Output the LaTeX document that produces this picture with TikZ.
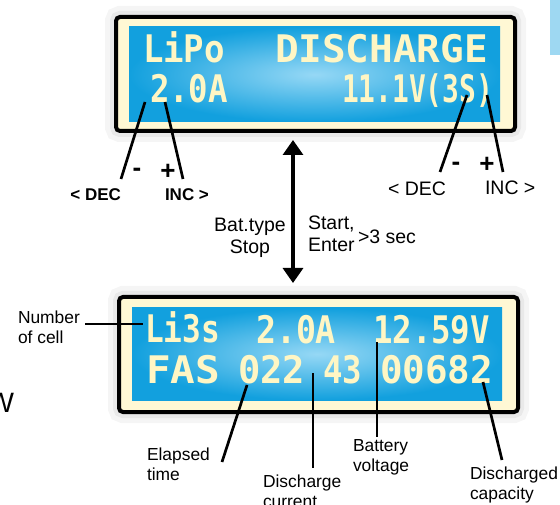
\documentclass[tikz,border=0pt]{standalone}
\usepackage{fontspec}
\setmainfont{Liberation Sans}
\newfontfamily\lcdfont{DejaVu Sans Mono}
\usepackage{graphicx}
\usepackage{tikz}
\usetikzlibrary{arrows.meta, positioning}
\definecolor{lcdcream}{RGB}{255,248,212}
\definecolor{lcdtxt}{RGB}{255,246,196}
\definecolor{lcdlight}{RGB}{150,216,245}
\definecolor{lcddark}{RGB}{18,160,222}
\definecolor{tabblue}{RGB}{158,216,242}
\newcommand{\lcdw}[2]{\resizebox{#1pt}{\height}{\lcdfont\bfseries\fontsize{38}{40}\selectfont #2}}

\begin{document}
\begin{tikzpicture}[x=1pt,y=-1pt,>={Triangle[length=15pt,width=20pt]},
 every node/.style={inner sep=0pt,outer sep=0pt},
 frm/.style={draw=black,line width=4pt,fill=lcdcream,rounded corners=4pt,minimum width=399pt,
  preaction={draw=black,opacity=.04,line width=22pt},preaction={draw=black,opacity=.05,line width=12pt}},
 scr/.style={inner color=lcdlight,outer color=lcddark,minimum width=370pt},
 dot/.style={text=lcdtxt,anchor=base west},
 lead/.style={line width=2.7pt},
 sgn/.style={font=\bfseries\fontsize{26}{26}\selectfont},
 key/.style={font=\bfseries\fontsize{17}{20}\selectfont},
 hint/.style={font=\fontsize{19.5}{22}\selectfont},
 note/.style={font=\fontsize{17.4}{20}\selectfont,align=left,anchor=north west}]
 \useasboundingbox (0,0) rectangle (560,505);
 \fill[tabblue] (550,0) rectangle (562,55);
 \node[anchor=east,font=\fontsize{28}{28}\selectfont] (w) at (14,403) {W};

 \node[frm,minimum height=114pt] (lcd1) at (315.5,74) {};
 \node[scr,minimum width=371pt,minimum height=95pt] (scr1) at (314.5,74.5) {};
 \node[dot] (bat) at (143,63) {\lcdw{82}{LiPo}};
 \node[dot] (mode) at (275,63) {\lcdw{213}{DISCHARGE}};
 \node[dot] (amp) at (150,103) {\lcdw{78}{2.0A}};
 \node[dot] (volt) at (342,103) {\lcdw{151}{11.1V(3S)}};

 \node[frm,minimum height=115pt] (lcd2) at (318.5,354.5) {};
 \node[scr,minimum height=92pt] (scr2) at (317,354) {};
 \node[dot] (cells) at (145,343) {\lcdw{75}{Li3s}};
 \node[dot] (cur) at (256,343) {\lcdw{80}{2.0A}};
 \node[dot] (bv) at (373,343) {\lcdw{117}{12.59V}};
 \node[dot] (fas) at (146,383) {\lcdw{74}{FAS}};
 \node[dot] (tmin) at (238,383) {\lcdw{67}{022}};
 \node[dot] (tsec) at (323,383) {\lcdw{39}{43}};
 \node[dot] (cap) at (380,383) {\lcdw{113}{00682}};

 \node[sgn] (dec1s) at (137,172) {-};
 \node[sgn] (inc1s) at (168,172) {+};
 \node[key,anchor=base east] (dec1) at (121,201) {< DEC};
 \node[key,anchor=base west] (inc1) at (165,201) {INC >};
 \node[sgn] (dec2s) at (456,166) {-};
 \node[sgn] (inc2s) at (487,165) {+};
 \node[hint,anchor=base west] (dec2) at (388,196) {< DEC};
 \node[hint,anchor=base west] (inc2) at (485,195) {INC >};

 \coordinate (m1) at (145,102); \coordinate (m2) at (121,179);
 \coordinate (i1) at (165,102); \coordinate (i2) at (183,179);
 \coordinate (m3) at (467,95); \coordinate (m4) at (440,172);
 \coordinate (i3) at (487,95); \coordinate (i4) at (503,172);
 \draw[lead] (m1) -- (m2);
 \draw[lead] (i1) -- (i2);
 \draw[lead] (m3) -- (m4);
 \draw[lead] (i3) -- (i4);

 \coordinate (up) at (293,140); \coordinate (dn) at (293,283);
 \draw[<->,line width=3.2pt] (up) -- (dn);
 \node[hint,align=center,anchor=north] (back) at (250,218) {Bat.type\\Stop};
 \node[hint,align=left,anchor=north west] (go) at (308,216) {Start,\\Enter};
 \node[hint,anchor=base west] (hold) at (358,244) {>3 sec};

 \node[note] (ncell) at (18,311) {Number\\of cell};
 \node[note] (etime) at (147,448) {Elapsed\\time};
 \node[note] (dcur) at (263,475) {Discharge\\current};
 \node[note] (bvolt) at (353,440) {Battery\\voltage};
 \node[note] (dcap) at (470,467) {Discharged\\capacity};
 \coordinate (c1) at (85,324); \coordinate (c2) at (143,324);
 \coordinate (e1) at (247,385); \coordinate (e2) at (222,462);
 \coordinate (d1) at (313,373); \coordinate (d2) at (313,468);
 \coordinate (b1) at (377,342); \coordinate (b2) at (377,437);
 \coordinate (k1) at (483,382); \coordinate (k2) at (502,460);
 \draw[lead] (c1) -- (c2);
 \draw[lead] (e1) -- (e2);
 \draw[lead] (d1) -- (d2);
 \draw[lead] (b1) -- (b2);
 \draw[lead] (k1) -- (k2);
\end{tikzpicture}
\end{document}
